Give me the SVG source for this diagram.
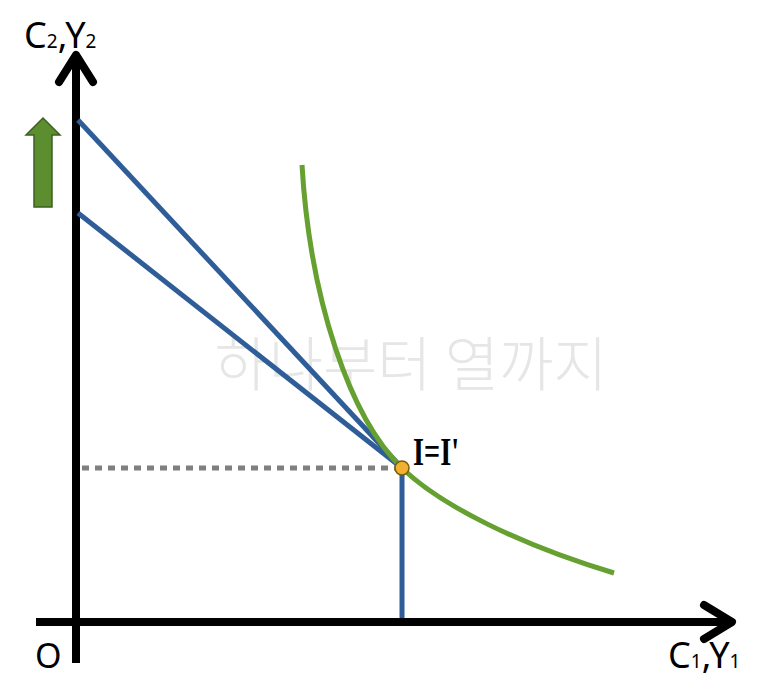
<svg xmlns="http://www.w3.org/2000/svg" width="773" height="699" viewBox="0 0 773 699">
<style>
.axis{stroke:#000;stroke-width:8;fill:none}
.head{stroke:#000;stroke-width:8;fill:none;stroke-linecap:round;stroke-linejoin:round}
.budget{stroke:#2e5d98;stroke-width:5;fill:none}
.lbl{font-family:"Noto Sans","Liberation Sans",sans-serif;fill:#000}
</style>
<rect width="773" height="699" fill="#fff"/>
<text x="411" y="386" font-family="'Noto Sans CJK KR',sans-serif" font-size="59" font-weight="300" fill="#e6e6e6" text-anchor="middle">하나부터 열까지</text>
<g id="axes">
<line class="axis" x1="76" y1="56" x2="76" y2="663"/>
<line class="axis" x1="36" y1="622" x2="731" y2="622"/>
<polyline class="head" points="59,82 76,55 93,82"/>
<polyline class="head" points="704,605 732,622 704,639"/>
</g>
<g id="connectors">
<line class="budget" x1="78" y1="120" x2="402" y2="468"/>
<line class="budget" x1="78" y1="213" x2="402" y2="468"/>
<line class="budget" x1="402" y1="468" x2="402" y2="618"/>
<line x1="82" y1="468" x2="396" y2="468" stroke="#7f7f7f" stroke-width="5" stroke-dasharray="7,6"/>
</g>
<g id="curve">
<path d="M302,165 C310,300 350,418 402,468 C440,505 520,545 614,573" stroke="#65a030" stroke-width="5" fill="none"/>
</g>
<g id="shift-arrow">
<polygon points="34,207 52,207 52,135 60,135 43,118 26,135 34,135" fill="#5c8d2f" stroke="#3d6020" stroke-width="1.5"/>
</g>
<g id="point">
<circle cx="402" cy="468" r="7" fill="#f0b030" stroke="#7a5a10" stroke-width="1.5"/>
<text x="413" y="465" font-family="'Liberation Serif',serif" font-size="40" font-weight="bold" textLength="46" lengthAdjust="spacingAndGlyphs" fill="#000">I=I'</text>
</g>
<g id="labels">
<text class="lbl" x="24" y="48" font-size="36">C<tspan font-size="19">2</tspan>,Y<tspan font-size="19">2</tspan></text>
<text class="lbl" x="668" y="668" font-size="36">C<tspan font-size="19">1</tspan>,Y<tspan font-size="19">1</tspan></text>
<text class="lbl" x="35" y="668" font-size="34">O</text>
</g>
</svg>
